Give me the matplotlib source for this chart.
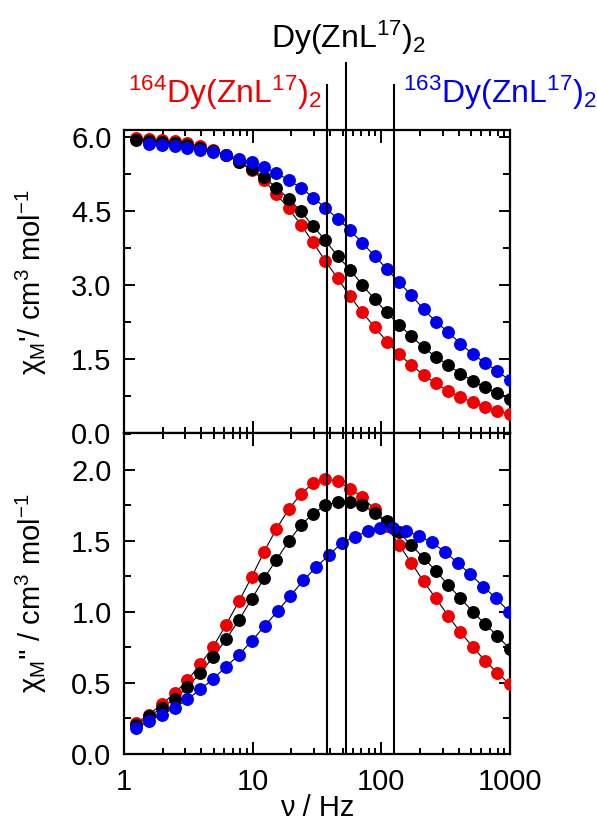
import matplotlib
matplotlib.use('Agg')
import matplotlib.pyplot as plt
import matplotlib.transforms as mtransforms
from matplotlib.lines import Line2D
from matplotlib.ticker import FixedLocator, MultipleLocator, LogLocator, NullFormatter

plt.rcParams['font.family'] = ['Liberation Sans', 'DejaVu Sans']
plt.rcParams['mathtext.fontset'] = 'custom'
plt.rcParams['mathtext.rm'] = 'Liberation Sans'
plt.rcParams['mathtext.it'] = 'Liberation Sans:italic'
plt.rcParams['mathtext.bf'] = 'Liberation Sans:bold'

# ---------------- data ----------------
# frequencies (Hz) of the red / black series (and blue in-phase)
freq_rb = [1.24, 1.56, 1.96, 2.47, 3.11, 3.92, 4.93, 6.21, 7.81, 9.84,
           12.26, 15.27, 19.02, 23.70, 29.51, 36.77, 45.80, 57.05, 71.07, 88.51,
           110.3, 137.3, 171.1, 213.1, 265.5, 330.7, 411.9, 513.2, 639.2, 796.2, 991.7]
freq_blue_in = [1.56, 1.96, 2.47, 3.11, 3.92, 4.93, 6.21, 7.81, 9.84,
                12.26, 15.27, 19.02, 23.70, 29.51, 36.77, 45.80, 57.05, 71.07, 88.51,
                110.3, 137.3, 171.1, 213.1, 265.5, 330.7, 411.9, 513.2, 639.2, 796.2, 991.7]
freq_blue_out = [1.24, 1.56, 1.96, 2.47, 3.11, 3.92, 4.93, 6.21, 7.81, 9.84,
                 12.4, 15.6, 19.6, 24.7, 31.1, 39.2, 49.3, 62.1, 78.1, 98.4,
                 124, 156, 196, 247, 311, 392, 493, 621, 781, 984]

# in-phase chi' (cm3 mol-1)
red_chi1 = [5.98, 5.97, 5.95, 5.92, 5.88, 5.82, 5.74, 5.64, 5.51, 5.34,
            5.13, 4.85, 4.56, 4.23, 3.87, 3.49, 3.14, 2.78, 2.45, 2.16,
            1.86, 1.60, 1.385, 1.18, 1.01, 0.86, 0.73, 0.63, 0.535, 0.455, 0.385]
black_chi1 = [5.95, 5.93, 5.91, 5.88, 5.84, 5.79, 5.73, 5.64, 5.50, 5.35,
              5.19, 4.98, 4.76, 4.50, 4.20, 3.91, 3.59, 3.32, 3.01, 2.72,
              2.45, 2.20, 1.97, 1.74, 1.55, 1.385, 1.21, 1.065, 0.93, 0.81, 0.70]
blue_chi1 = [5.86, 5.84, 5.82, 5.79, 5.75, 5.71, 5.65, 5.57, 5.50,
             5.40, 5.28, 5.135, 4.98, 4.78, 4.57, 4.35, 4.12, 3.86, 3.60,
             3.33, 3.06, 2.80, 2.515, 2.265, 2.05, 1.82, 1.605, 1.43, 1.26, 1.08]

# out-of-phase chi'' (cm3 mol-1)
red_chi2 = [0.216, 0.277, 0.349, 0.426, 0.518, 0.631, 0.754, 0.909, 1.073, 1.246,
            1.422, 1.582, 1.721, 1.827, 1.906, 1.932, 1.920, 1.863, 1.808, 1.720,
            1.600, 1.470, 1.344, 1.213, 1.094, 0.972, 0.855, 0.754, 0.656, 0.571, 0.492]
black_chi2 = [0.204, 0.265, 0.321, 0.390, 0.469, 0.569, 0.682, 0.806, 0.942, 1.090,
              1.235, 1.365, 1.495, 1.608, 1.690, 1.751, 1.772, 1.772, 1.749, 1.698,
              1.640, 1.558, 1.469, 1.378, 1.287, 1.188, 1.096, 1.000, 0.914, 0.831, 0.740]
blue_chi2 = [0.180, 0.232, 0.274, 0.325, 0.384, 0.455, 0.527, 0.614, 0.696, 0.796,
             0.900, 1.005, 1.110, 1.220, 1.314, 1.398, 1.485, 1.527, 1.567, 1.586,
             1.586, 1.569, 1.532, 1.488, 1.422, 1.344, 1.263, 1.176, 1.094, 1.000]

# peak frequencies marked by vertical lines (Hz)
peak_freqs = [38.0, 52.8, 125.0]

x_ticks = [1, 10, 100, 1000]
x_tick_labels = ['1', '10', '100', '1000']
y1_ticks = [0.0, 1.5, 3.0, 4.5, 6.0]
y1_tick_labels = ['0.0', '1.5', '3.0', '4.5', '6.0']
y2_ticks = [0.0, 0.5, 1.0, 1.5, 2.0]
y2_tick_labels = ['0.0', '0.5', '1.0', '1.5', '2.0']

label_black = r'$\mathregular{Dy(ZnL^{17})_2}$'
label_red = r'$\mathregular{^{164}Dy(ZnL^{17})_2}$'
label_blue = r'$\mathregular{^{163}Dy(ZnL^{17})_2}$'
ylabel_top = r"$\mathregular{χ_M}$'/ cm$^\mathregular{3}$ mol$^\mathregular{-1}$"
ylabel_bottom = r"$\mathregular{χ_M}$'' / cm$^\mathregular{3}$ mol$^\mathregular{-1}$"
xlabel = 'ν / Hz'

RED = '#f00000'
BLUE = '#0000f0'

# ---------------- figure ----------------
W, H = 597, 830
fig = plt.figure(figsize=(W / 100, H / 100), dpi=100)
L, R = 124, 510
T1, B1 = 130, 433.3
B2 = 754
ax1 = fig.add_axes([L / W, 1 - B1 / H, (R - L) / W, (B1 - T1) / H])
ax2 = fig.add_axes([L / W, 1 - B2 / H, (R - L) / W, (B2 - B1) / H])

FS = 21


def draw(ax, f, y, color):
    ax.plot(f, y, '-', color='black', lw=0.8, zorder=2)
    ax.plot(f, y, 'o', color=color, ms=9.3, mew=0, zorder=3)


draw(ax1, freq_rb, red_chi1, RED)
draw(ax1, freq_rb, black_chi1, 'black')
draw(ax1, freq_blue_in, blue_chi1, BLUE)

draw(ax2, freq_rb, red_chi2, RED)
draw(ax2, freq_rb, black_chi2, 'black')
draw(ax2, freq_blue_out, blue_chi2, BLUE)

for ax in (ax1, ax2):
    ax.set_xscale('log')
    ax.set_xlim(1, 1000)
    ax.xaxis.set_major_locator(FixedLocator(x_ticks))
    ax.xaxis.set_minor_locator(LogLocator(base=10, subs=(2, 3, 4, 5, 6, 7, 8, 9), numticks=20))
    ax.xaxis.set_minor_formatter(NullFormatter())
    for s in ax.spines.values():
        s.set_linewidth(1.6)
    ax.tick_params(which='both', direction='in', top=True, right=True, width=1.4)
    ax.tick_params(axis='x', which='major', length=9, pad=10)
    ax.tick_params(axis='x', which='minor', length=4)
    ax.tick_params(axis='y', which='major', length=8, pad=9)
    ax.tick_params(axis='y', which='minor', length=5)
    ax.tick_params(labelsize=FS)

ax1.set_ylim(0, 6.15)
ax1.set_yticks(y1_ticks)
ax1.set_yticklabels(y1_tick_labels)
ax1.yaxis.set_minor_locator(MultipleLocator(0.75))
ax1.tick_params(axis='x', labelbottom=False)

ax2.set_ylim(0, 2.255)
ax2.set_yticks(y2_ticks)
ax2.set_yticklabels(y2_tick_labels)
ax2.yaxis.set_minor_locator(MultipleLocator(0.25))
ax2.set_xticks(x_ticks)
ax2.set_xticklabels(x_tick_labels)

ax1.set_ylabel(ylabel_top, fontsize=FS)
ax2.set_ylabel(ylabel_bottom, fontsize=FS)
ax1.yaxis.set_label_coords(-0.195, 0.5)
ax2.yaxis.set_label_coords(-0.195, 0.5)
ax2.set_xlabel(xlabel, fontsize=FS)
ax2.xaxis.set_label_coords(0.5, -0.125)

# vertical lines through both panels
trans = mtransforms.blended_transform_factory(ax2.transData, fig.transFigure)
tops = [85, 63, 85]
for f, t in zip(peak_freqs, tops):
    fig.add_artist(Line2D([f, f], [1 - B2 / H, 1 - t / H], transform=trans,
                          color='black', lw=1.5, zorder=5))

FS_T = 23
fig.text(349 / W, 1 - 47.6 / H, label_black, fontsize=FS_T, ha='center', va='baseline', color='black')
fig.text(322 / W, 1 - 103 / H, label_red, fontsize=FS_T, ha='right', va='baseline', color=RED)
fig.text(403 / W, 1 - 103 / H, label_blue, fontsize=FS_T, ha='left', va='baseline', color=BLUE)

fig.savefig('out.png', dpi=100)
